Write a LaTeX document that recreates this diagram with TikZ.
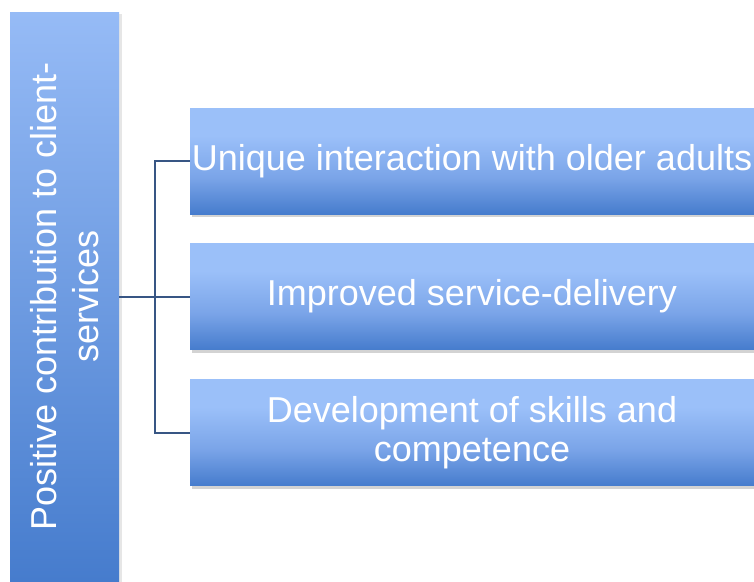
\documentclass[tikz,border=0pt]{standalone}
\usepackage{fontspec}
\setmainfont{Liberation Sans}
\usetikzlibrary{shadows,calc}
\definecolor{barlight}{RGB}{150,187,246}
\definecolor{bardark}{RGB}{70,124,205}
\definecolor{boxlight}{RGB}{155,192,249}
\definecolor{boxmid}{RGB}{122,164,232}
\definecolor{boxdark}{RGB}{70,124,205}
\definecolor{wire}{RGB}{56,86,132}
\pgfdeclareverticalshading{boxshade}{100bp}{color(0bp)=(boxdark); color(25bp)=(boxdark); color(42bp)=(boxmid); color(62bp)=(boxlight); color(75bp)=(boxlight); color(100bp)=(boxlight)}

\begin{document}
\begin{tikzpicture}[x=1pt,y=-1pt]
  \tikzstyle{bar} = [rectangle,inner sep=0pt,minimum width=109pt,minimum height=569pt,
    top color=barlight,bottom color=bardark,
    drop shadow={shadow xshift=3pt,shadow yshift=-2pt,opacity=0.2}]
  \tikzstyle{box} = [rectangle,inner sep=0pt,minimum width=564pt,minimum height=106pt,
    shade,shading=boxshade,text=white,align=center,font=\fontsize{36}{39}\selectfont,
    drop shadow={shadow xshift=2pt,shadow yshift=-3pt,opacity=0.35}]
  \tikzstyle{wire} = [draw=wire,line width=2pt]
  \useasboundingbox (0,0) rectangle (754,581);
  \clip (0,0) rectangle (754,581);
  \node (main) [bar] at (64.5,296.5) {};
  \node (mainlabel) [rotate=90,text=white,align=center,inner sep=0pt,
    font=\fontsize{36}{42}\selectfont] at (main) {Positive contribution to client-\\services};
  \foreach \n/\y/\t in {1/161/{Unique interaction with older adults},
                        2/296.5/{Improved service-delivery},
                        3/432.5/{Development of skills and\\competence}}
    \node (b\n) [box] at (472,\y) {\t};
  \coordinate (fork) at ($(main.east)!0.5!(b2.west)$);
  \path[wire] (main.east) -- (b2.west);
  \path[wire] (b1.west) -| (fork) |- (b3.west);
\end{tikzpicture}
\end{document}
